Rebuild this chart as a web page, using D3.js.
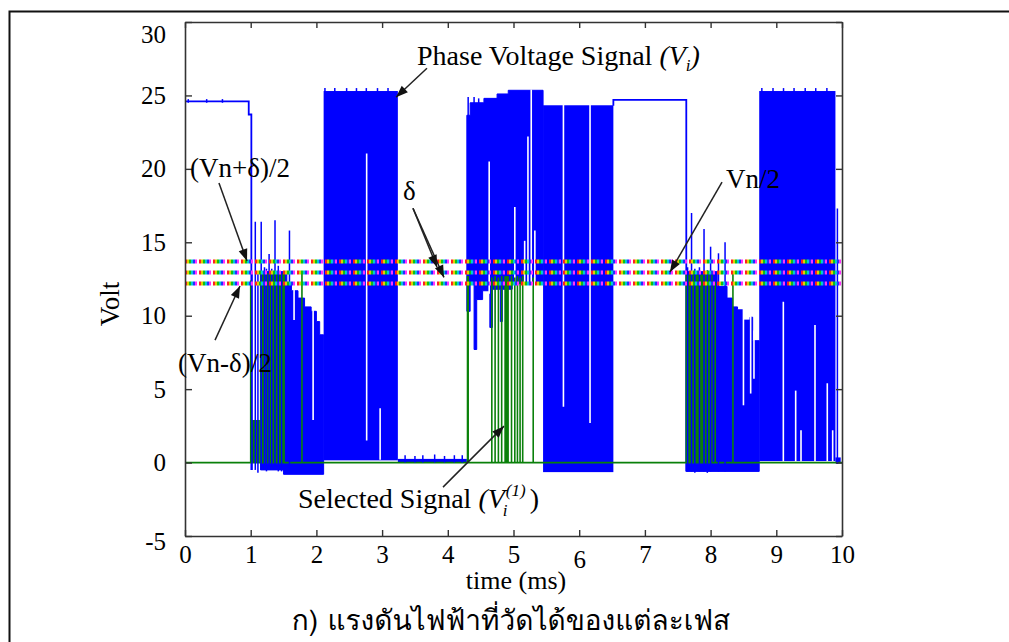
<!DOCTYPE html>
<html><head><meta charset="utf-8">
<script src="https://cdn.jsdelivr.net/npm/d3@7"></script>
<style>
html,body{margin:0;padding:0;background:#fff;}
svg{display:block;}
</style></head><body>
<svg id="chart" width="1009" height="642"></svg>
<script>
// ---------------- data ----------------
const xTicks = [0,1,2,3,4,5,6,7,8,9,10];
const yTicks = [-5,0,5,10,15,20,25,30];
// threshold levels: (Vn+δ)/2, Vn/2, (Vn-δ)/2
const thresholds = [13.7, 12.95, 12.2];

// phase voltage: constant-level steps (polylines of [t, V])
const phaseSteps = [
  [[0,24.6],[0.97,24.6],[0.97,23.7],[1.01,23.7],[1.01,-0.5]],
  [[6.52,24.3],[6.52,24.7],[7.63,24.7],[7.63,-0.6]]
];
// phase voltage: densely switching blocks [t0, t1, Vlow, Vhigh]
const phaseBlocks = [
  [2.11,3.24,0.15,25.3],
  [3.24,4.29,0.0,0.25],
  [5.45,6.52,-0.65,24.33],
  [8.74,9.90,0.1,25.3],
  [9.90,9.98,-0.05,0.35]
];
// phase voltage: switching regions with irregular envelopes (polygons of [t, V])
const phaseAreas = [
  [[1.15,-0.5],[1.15,13.0],[1.55,13.0],[1.55,12.2],[1.62,12.2],[1.62,11.7],[1.72,11.7],[1.72,11.2],
   [1.82,11.2],[1.82,10.6],[1.92,10.6],[1.92,10.3],[2.0,10.3],[2.0,9.6],[2.05,9.6],[2.05,8.7],
   [2.11,8.7],[2.11,-0.8],[1.5,-0.8],[1.5,-0.5]],
  [[4.29,10.3],[4.29,23.65],[4.34,23.65],[4.34,24.5],[4.55,24.5],[4.55,24.8],[4.75,24.8],[4.75,25.1],
   [4.92,25.1],[4.92,25.35],[5.45,25.35],[5.45,12.2],[4.98,12.2],[4.98,11.8],[4.83,11.8],[4.83,9.6],
   [4.80,9.6],[4.80,11.8],[4.68,11.8],[4.68,9.2],[4.64,9.2],[4.64,11.7],[4.53,11.7],[4.53,11.1],
   [4.44,11.1],[4.44,7.7],[4.40,7.7],[4.40,12.2],[4.34,12.2],[4.34,10.3]],
  [[7.63,-0.6],[7.63,13.0],[8.1,13.0],[8.1,12.0],[8.25,12.0],[8.25,11.2],[8.33,11.2],[8.33,10.6],
   [8.41,10.6],[8.41,10.4],[8.5,10.4],[8.5,9.7],[8.6,9.7],[8.6,9.9],[8.64,9.9],[8.64,8.3],
   [8.74,8.3],[8.74,-0.6]]
];
// phase voltage: isolated switching spikes [t, Vlow, Vhigh]
const phaseSpikes = [
  [0.05,24.5,24.75],[0.33,24.5,24.75],[0.57,24.5,24.75],
  [1.02,-0.5,13.0],[1.07,-0.5,16.4],[1.11,-0.7,13.0],[1.16,-0.5,16.4],[1.21,-0.5,13.3],
  [1.24,-0.6,13.2],[1.28,-0.5,14.2],[1.32,-0.5,13.2],[1.37,-0.5,16.5],[1.42,-0.6,13.4],
  [1.47,-0.6,13.0],[1.59,-0.5,15.8],
  [2.13,25.0,25.5],[2.28,25.0,25.5],[2.46,25.0,25.5],[2.61,25.0,25.5],[2.76,25.0,25.5],[2.93,25.0,25.5],[3.09,25.0,25.5],
  [3.35,0,0.5],[3.5,0,0.45],[3.62,0,0.5],[3.8,0,0.55],[3.95,0,0.45],[4.1,0,0.5],[4.22,0,0.5],
  [4.31,23.0,24.9],[4.40,23.0,24.9],[4.47,23.0,24.8],
  [7.65,-0.6,13.3],[7.71,-0.6,17.0],[7.76,-0.7,13.2],[7.83,-0.6,13.3],[7.90,-0.6,15.9],
  [7.95,-0.7,13.1],[8.00,-0.6,14.7],[8.12,-0.6,14.25],[8.22,-0.6,15.0],
  [8.78,25.0,25.5],[8.95,25.0,25.5],[9.11,25.0,25.5],[9.27,25.0,25.5],[9.44,25.0,25.5],[9.60,25.0,25.5],[9.77,25.0,25.5],
  [9.93,-0.1,17.3]
];
// phase voltage: gaps in the switching (no trace) [t, Vlow, Vhigh]
const phaseGaps = [
  [1.66,9.7,12.3],[1.95,2.9,10.7],
  [2.765,1.5,21.05],[2.97,0.2,3.7],
  [4.63,11.5,20.5],[5.02,11.5,17.4],[5.17,11.5,15.1],[5.22,11.5,22.2],[5.27,11.5,25.4],[5.325,11.5,15.8],
  [5.76,3.8,24.4],[6.165,2.7,24.4],
  [8.50,3.9,10.5],[8.61,4.7,10.0],[8.66,5.7,9.0],
  [9.107,0.05,10.95],[9.295,0.05,4.9],[9.376,0.05,2.2],[9.589,0.05,9.36],[9.776,0.05,5.4],[9.858,0.05,2.2]
];
// selected signal: dense pulse trains [t0, t1, Vhigh] and single pulses [t, Vhigh]
const selectedBlocks = [[1.0,1.14,2.9],[1.14,1.52,12.9],[4.86,4.93,12.7],[7.65,8.03,12.8]];
const selectedPulses = [
  [1.0,12.4],[1.78,13.0],
  [4.30,12.7],[4.31,12.7],[4.67,12.6],[4.72,12.7],[4.77,12.6],[4.82,12.7],[4.97,12.7],
  [5.02,12.6],[5.06,12.7],[5.10,12.6],[5.14,12.7],[5.30,12.6],
  [7.63,12.8],[8.07,12.3],[8.34,12.9]
];
const selectedBase = [[0,0],[10,0]];

// ---------------- drawing ----------------
const svg = d3.select("#chart");
const serif = '"Liberation Serif","Times New Roman",Times,serif';
const BLUE = "#0000ff", GREEN = "#0a800a", AX = "#333";

const x = d3.scaleLinear().domain([0,10]).range([185,842]);
const y = d3.scaleLinear().domain([-5,30]).range([536,22]);

// outer frame
svg.append("rect").attr("x",9.5).attr("y",11.5).attr("width",1100).attr("height",700)
  .attr("fill","none").attr("stroke","#111").attr("stroke-width",2);

const plot = svg.append("g");
const line = d3.line().x(d=>x(d[0])).y(d=>y(d[1]));

// blue phase voltage
plot.selectAll(".area").data(phaseAreas).join("path")
  .attr("d", d=>line(d)+"Z").attr("fill",BLUE).attr("stroke",BLUE).attr("stroke-width",1);
plot.selectAll(".blk").data(phaseBlocks).join("rect")
  .attr("x",d=>x(d[0])).attr("width",d=>x(d[1])-x(d[0]))
  .attr("y",d=>y(d[3])).attr("height",d=>y(d[2])-y(d[3])).attr("fill",BLUE);
plot.selectAll(".step").data(phaseSteps).join("path")
  .attr("d",line).attr("fill","none").attr("stroke",BLUE).attr("stroke-width",1.8);
plot.selectAll(".gap").data(phaseGaps).join("line")
  .attr("x1",d=>x(d[0])).attr("x2",d=>x(d[0])).attr("y1",d=>y(d[1])).attr("y2",d=>y(d[2]))
  .attr("stroke","#fff").attr("stroke-width",1.6);

// green selected signal
plot.selectAll(".gblk").data(selectedBlocks).join("rect")
  .attr("x",d=>x(d[0])).attr("width",d=>x(d[1])-x(d[0]))
  .attr("y",d=>y(d[2])).attr("height",d=>y(0)-y(d[2])).attr("fill",GREEN);
plot.selectAll(".gp").data(selectedPulses).join("line")
  .attr("x1",d=>x(d[0])).attr("x2",d=>x(d[0])).attr("y1",y(0)).attr("y2",d=>y(d[1]))
  .attr("stroke",GREEN).attr("stroke-width",1.6);
plot.append("path").attr("d",line(selectedBase)).attr("stroke",GREEN).attr("stroke-width",1.8).attr("fill","none");

// blue spikes on top
plot.selectAll(".spk").data(phaseSpikes).join("line")
  .attr("x1",d=>x(d[0])).attr("x2",d=>x(d[0])).attr("y1",d=>y(d[1])).attr("y2",d=>y(d[2]))
  .attr("stroke",BLUE).attr("stroke-width",1.5);

// dotted multicolour threshold lines
const dotColors = ["#ff2020","#e0d000","#10c010","#00c8d8","#2030ff","#ff30ff"];
thresholds.forEach(v=>{
  dotColors.forEach((c,i)=>{
    plot.append("line").attr("x1",x(0)).attr("x2",x(10)).attr("y1",y(v)).attr("y2",y(v))
      .attr("stroke",c).attr("stroke-width",4)
      .attr("stroke-dasharray","2 12").attr("stroke-dashoffset",-2*i);
  });
});

// axes
function styleAxis(g){
  g.attr("font-family",serif);
  g.selectAll(".domain").attr("stroke",AX).attr("stroke-width",1.6);
  g.selectAll(".tick line").attr("stroke",AX).attr("stroke-width",1.4);
  g.selectAll("text").attr("font-family",serif).attr("font-size",25).attr("fill","#000");
}
const fmt = d=>String(d);
const gb = svg.append("g").attr("transform",`translate(0,${y(-5)})`)
  .call(d3.axisBottom(x).tickValues(xTicks).tickSize(-6).tickSizeOuter(0).tickPadding(9).tickFormat(fmt));
styleAxis(gb);
gb.selectAll(".tick text").filter(d=>d===6).attr("transform","translate(0,5)");
const gt = svg.append("g").attr("transform",`translate(0,${y(30)})`)
  .call(d3.axisTop(x).tickValues(xTicks).tickSize(-6).tickSizeOuter(0).tickFormat(""));
styleAxis(gt);
const gl = svg.append("g").attr("transform",`translate(${x(0)},0)`)
  .call(d3.axisLeft(y).tickValues(yTicks).tickSize(-7).tickSizeOuter(0).tickPadding(19).tickFormat(fmt));
styleAxis(gl);
gl.selectAll(".tick text").filter(d=>d===30).attr("transform","translate(0,12)");
gl.selectAll(".tick text").filter(d=>d===-5).attr("transform","translate(0,5)");
const gr = svg.append("g").attr("transform",`translate(${x(10)},0)`)
  .call(d3.axisRight(y).tickValues(yTicks).tickSize(-6).tickSizeOuter(0).tickFormat(""));
styleAxis(gr);

// axis titles
svg.append("text").attr("transform",`translate(119,${(y(-5)+y(30))/2+25}) rotate(-90)`)
  .attr("text-anchor","middle").attr("font-family",serif).attr("font-size",27).text("Volt");
svg.append("text").attr("x",516).attr("y",589).attr("text-anchor","middle")
  .attr("font-family",serif).attr("font-size",26).text("time (ms)");
svg.append("text").attr("x",511).attr("y",630).attr("text-anchor","middle")
  .attr("font-family",'"Norasi","Loma","Garuda","Noto Sans Thai","TlwgTypo","DejaVu Sans",sans-serif')
  .attr("font-size",28).text("ก) แรงดันไฟฟ้าที่วัดได้ของแต่ละเฟส");

// arrows (in data coordinates)
function arrow(t0,v0,t1,v1){
  const X0=x(t0),Y0=y(v0),X1=x(t1),Y1=y(v1);
  svg.append("line").attr("x1",X0).attr("y1",Y0).attr("x2",X1).attr("y2",Y1)
    .attr("stroke","#222").attr("stroke-width",1.5);
  const a=Math.atan2(Y1-Y0,X1-X0), L=12, w=4.5;
  const bx=X1-L*Math.cos(a), by=Y1-L*Math.sin(a);
  svg.append("path").attr("d",`M${X1},${Y1}L${bx+w*Math.sin(a)},${by-w*Math.cos(a)}L${bx-w*Math.sin(a)},${by+w*Math.cos(a)}Z`)
    .attr("fill","#111");
}
arrow(3.683,26.85,3.212,24.88);
arrow(0.517,19.03,0.944,13.72);
arrow(0.457,8.34,0.837,12.02);
arrow(3.470,17.32,3.942,12.61);
arrow(3.470,17.32,3.836,13.31);
arrow(8.174,19.09,7.382,12.97);
arrow(3.927,-1.67,4.855,2.48);

// annotation texts
function label(t,v,str,size){
  return svg.append("text").attr("x",x(t)).attr("y",y(v)).attr("font-family",serif)
    .attr("font-size",size).attr("fill","#000").text(str);
}
label(0.076,19.43,"(Vn+δ)/2",27);
label(-0.107,6.16,"(Vn-δ)/2",27);
label(3.318,17.87,"δ",27);
label(8.234,18.69,"Vn/2",27);

// Phase Voltage Signal (V_i)
{
  const t = label(3.531,27.06,"Phase Voltage Signal\u00a0",28);
  const X = x(3.531), Y = y(27.06);
  const w = t.node().getComputedTextLength();
  const p = svg.append("text").attr("x",X+w).attr("y",Y).attr("font-family",serif).attr("font-size",28)
    .attr("font-style","italic");
  p.append("tspan").text("(V");
  p.append("tspan").attr("font-size",17).attr("dy",6).text("i");
  p.append("tspan").attr("dy",-6).text(")");
}
// Selected Signal (V_i^(1))
{
  const t = label(1.72,-3.1,"Selected Signal\u00a0",28);
  const X = x(1.72), Y = y(-3.1);
  const w = t.node().getComputedTextLength();
  const a = svg.append("text").attr("x",X+w).attr("y",Y).attr("font-family",serif).attr("font-size",28)
    .attr("font-style","italic").text("(V");
  const w2 = a.node().getComputedTextLength();
  const sup = svg.append("text").attr("x",X+w+w2+1).attr("y",Y-12).attr("font-family",serif).attr("font-size",17)
    .attr("font-style","italic").text("(1)");
  svg.append("text").attr("x",X+w+w2-2).attr("y",Y+8).attr("font-family",serif).attr("font-size",17)
    .attr("font-style","italic").text("i");
  const w3 = sup.node().getComputedTextLength();
  svg.append("text").attr("x",X+w+w2+w3+5).attr("y",Y).attr("font-family",serif).attr("font-size",28)
    .text(")");
}
</script>
</body></html>
